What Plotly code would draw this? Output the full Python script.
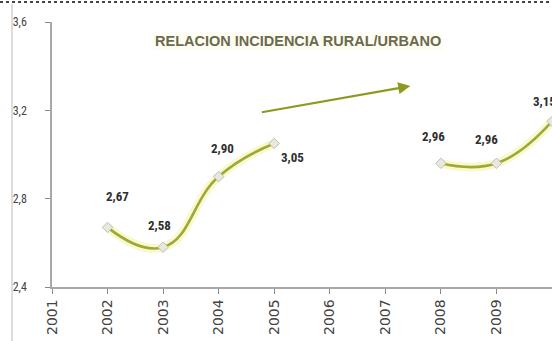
import plotly.graph_objects as go

# Rural/urban incidence ratio by year (no data for 2001, 2006, 2007)
years = [2001, 2002, 2003, 2004, 2005, 2006, 2007, 2008, 2009, 2010]
ratio = [None, 2.67, 2.58, 2.90, 3.05, None, None, 2.96, 2.96, 3.15]
tick_years = ["2001", "2002", "2003", "2004", "2005", "2006", "2007", "2008", "2009", "2010"]
y_ticks = [2.4, 2.8, 3.2, 3.6]
y_tick_text = ["2,4", "2,8", "3,2", "3,6"]

# label offsets (pixels) for each value label
label_shift = {
    2002: (10, 31),
    2003: (-4, 22),
    2004: (4, 28),
    2005: (18, -14),
    2008: (-7, 27),
    2009: (-10, 24),
    2010: (-8, 20),
}

LINE = "#a0a834"
GLOW = "rgba(240,242,150,0.45)"
FONT = "Liberation Sans Narrow, Roboto Condensed, Arial Narrow, sans-serif"
WIDE = "DejaVu Sans, Verdana, sans-serif"

fig = go.Figure()

# soft halo under the curve
fig.add_trace(go.Scatter(
    x=years, y=ratio, mode="lines",
    line=dict(color=GLOW, width=9, shape="spline", smoothing=1.3),
    connectgaps=False, hoverinfo="skip", showlegend=False,
))
fig.add_trace(go.Scatter(
    x=years, y=ratio, mode="lines+markers",
    line=dict(color=LINE, width=2.6, shape="spline", smoothing=1.3),
    marker=dict(symbol="diamond", size=8, color="#e8e8e0",
                line=dict(color="#c0c0b0", width=1)),
    connectgaps=False, showlegend=False,
))

for yr, v in zip(years, ratio):
    if v is None:
        continue
    dx, dy = label_shift[yr]
    fig.add_annotation(
        x=yr, y=v, text=f"<b>{v:.2f}</b>".replace(".", ","), showarrow=False,
        xshift=dx, yshift=dy,
        font=dict(family=FONT, size=13, color="#2e2e2e"),
    )

# trend arrow
fig.add_annotation(
    x=2007.45, y=3.31, ax=2004.75, ay=3.19,
    xref="x", yref="y", axref="x", ayref="y",
    text="", showarrow=True, arrowhead=2, arrowsize=1.1,
    arrowwidth=2.2, arrowcolor="#8e9a1e",
)

# title
fig.add_annotation(
    x=(298 - 52) / 500, y=1 + (22 - 41) / 265, xref="paper", yref="paper",
    xanchor="center", yanchor="middle",
    text="<b>RELACION INCIDENCIA RURAL/URBANO</b>", showarrow=False,
    font=dict(family="Liberation Sans, Arial, sans-serif", size=14.5, color="#6b6a4c"),
    bgcolor="rgba(252,252,232,0.5)",
)

# outer frame: solid left border and dotted top border
fig.add_shape(type="line", xref="paper", yref="paper",
              x0=(12 - 52) / 500, x1=(12 - 52) / 500,
              y0=-54 / 265, y1=1 + 18 / 265,
              line=dict(color="#bbbbbb", width=1))
fig.add_shape(type="line", xref="paper", yref="paper",
              x0=-52 / 500, x1=1.0,
              y0=1 + 20 / 265, y1=1 + 20 / 265,
              line=dict(color="#444444", width=2, dash="dot"))

fig.update_layout(
    width=552, height=341,
    margin=dict(l=52, r=0, t=22, b=54),
    paper_bgcolor="white", plot_bgcolor="white",
    font=dict(family=FONT, color="#444444"),
    xaxis=dict(
        range=[2001, 2010.0],
        tickmode="array", tickvals=years, ticktext=tick_years,
        tickangle=-90, ticks="outside", ticklen=5, tickcolor="#888888",
        showline=True, linecolor="#a8a8a8", linewidth=1.5,
        showgrid=False, zeroline=False,
        tickfont=dict(family=WIDE, size=14, color="#444444"),
    ),
    yaxis=dict(
        range=[2.4, 3.6],
        tickmode="array", tickvals=y_ticks, ticktext=y_tick_text,
        ticks="outside", ticklen=5, tickcolor="#888888",
        ticklabelstandoff=16,
        showline=True, linecolor="#a8a8a8", linewidth=1.5,
        showgrid=False, zeroline=False,
        tickfont=dict(family=FONT, size=12, color="#444444"),
    ),
)

fig.write_html("out.html")
